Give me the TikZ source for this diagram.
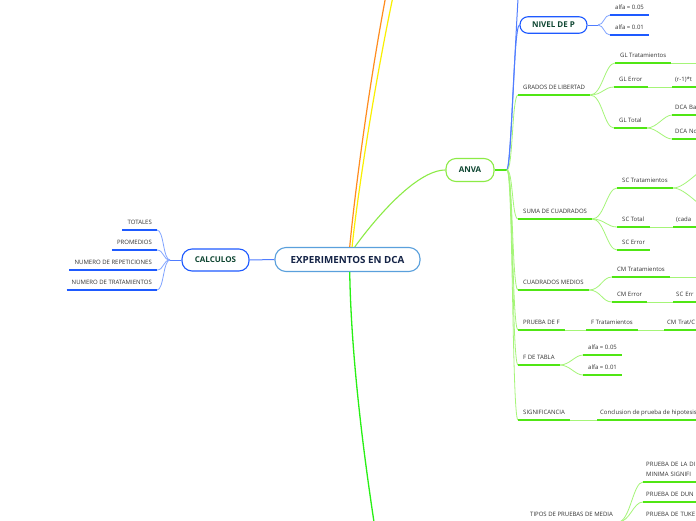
\documentclass[tikz,border=0pt]{standalone}
\usepackage{fontspec}
\setmainfont{Open Sans}
\usepackage{xcolor}
\usepackage{tikz}
\definecolor{rootline}{RGB}{90,160,220}
\definecolor{roottext}{RGB}{20,35,70}
\definecolor{topictext}{RGB}{15,70,50}
\definecolor{leaftext}{RGB}{50,50,50}
\definecolor{bluedark}{RGB}{30,90,255}
\definecolor{bluemid}{RGB}{80,125,255}
\definecolor{bluelight}{RGB}{130,165,255}
\definecolor{greendark}{RGB}{80,230,20}
\definecolor{greenlight}{RGB}{165,245,120}
\definecolor{greenbox}{RGB}{140,235,70}
\definecolor{mainorange}{RGB}{255,140,30}
\definecolor{mainyellow}{RGB}{250,240,0}
\definecolor{maingreen}{RGB}{40,240,20}
\tikzset{
    rootbox/.style={draw=rootline,line width=1.1pt,rounded corners=11pt,fill=white,text=roottext,
        font=\fontsize{9.8}{11}\selectfont\bfseries,minimum width=145pt,minimum height=24pt,inner sep=0pt},
    topicbox/.style={line width=1.1pt,fill=white,text=topictext,font=\fontsize{8}{9}\selectfont\bfseries,inner sep=0pt},
    bluetopic/.style={topicbox,draw=bluedark,rounded corners=10pt},
    greentopic/.style={topicbox,draw=greenbox,rounded corners=10pt},
    leaf/.style={text=leaftext,font=\fontsize{6}{10}\selectfont,inner xsep=5pt,inner ysep=0pt,text height=4.5pt,text depth=5pt},
    rleaf/.style={leaf,anchor=south west},
    lleaf/.style={leaf,anchor=south east},
    cutleaf/.style={rleaf,inner xsep=3pt,text width=62pt,align=left},
    bline/.style={draw=bluedark,line width=1.4pt},
    bjoin/.style={draw=bluemid,line width=1pt},
    bcurve/.style={draw=bluelight,line width=0.8pt},
    gline/.style={draw=greendark,line width=1.4pt},
    gjoin/.style={draw=greendark,line width=1.2pt},
    gcurve/.style={draw=greenlight,line width=0.8pt},
}

\begin{document}
\begin{tikzpicture}[x=1pt,y=-1pt]
        \useasboundingbox[fill=white] (0,0) rectangle (696,520);

        \node[rootbox] (root) at (347.5,259.5) {EXPERIMENTOS EN DCA};
        \node[bluetopic,minimum width=67pt,minimum height=22pt] (calc) at (215.5,260) {CALCULOS};
        \node[greentopic,minimum width=48pt,minimum height=23pt] (anva) at (470,170) {ANVA};
        \node[bluetopic,rounded corners=8pt,minimum width=67pt,minimum height=16.5pt] (nivel) at (553.5,25) {NIVEL DE P};

        \coordinate (orangeend) at (393,-40);
        \coordinate (yellowend) at (401,-40);
        \coordinate (downend) at (380,560);
        \draw[mainorange,line width=1.2pt] (root.80) .. controls (355,190) and (372,60) .. (orangeend);
        \draw[mainyellow,line width=1.2pt] (root.70) .. controls (358,190) and (378,60) .. (yellowend);
        \draw[maingreen,line width=1.3pt] (root.-80) .. controls (351,350) and (362,450) .. (downend);
        \draw[greenbox,line width=1.1pt] (root.60) .. controls +(18,-25) and +(-30,0) .. (anva.west);
        \draw[bjoin] (root.west) -- (calc.east);

        \node[lleaf] (totales) at (157,230) {TOTALES};
        \node[lleaf] (promedios) at (157,250) {PROMEDIOS};
        \node[lleaf] (repet) at (157,270) {NUMERO DE REPETICIONES};
        \node[lleaf] (tratam) at (157,290) {NUMERO DE TRATAMIENTOS};
        \coordinate (calcout) at (170,260);
        \draw[bjoin] (calc.west) -- (calcout);
        \draw[bcurve] (calcout) .. controls +(-7,0) and +(7,0) .. (totales.south east);
        \draw[bcurve] (calcout) .. controls +(-7,0) and +(7,0) .. (promedios.south east);
        \draw[bcurve] (calcout) .. controls +(-7,0) and +(7,0) .. (repet.south east);
        \draw[bcurve] (calcout) .. controls +(-7,0) and +(7,0) .. (tratam.south east);

        \coordinate (anvaout) at (507,170);
        \coordinate (anvaup) at (524,-60);
        \draw[gjoin] (anva.east) -- (anvaout);
        \draw[bjoin] (anvaout) .. controls +(5,-6) and +(-6,0) .. (nivel.west);
        \draw[bjoin] (anvaout) .. controls +(5,-6) and +(-6,0) .. (anvaup);

        \node[rleaf] (alfa5) at (610,15) {alfa = 0.05};
        \node[rleaf] (alfa1) at (610,35) {alfa = 0.01};
        \coordinate (nivelout) at (598,25);
        \draw[bjoin] (nivel.east) -- (nivelout);
        \draw[bcurve] (nivelout) .. controls +(6,0) and +(-6,0) .. (alfa5.south west);
        \draw[bcurve] (nivelout) .. controls +(6,0) and +(-6,0) .. (alfa1.south west);

        \node[rleaf] (grados) at (518,95) {GRADOS DE LIBERTAD};
        \node[rleaf] (suma) at (518,219) {SUMA DE CUADRADOS};
        \node[rleaf] (cmedios) at (518,290) {CUADRADOS MEDIOS};
        \node[rleaf] (pruebaf) at (518,330) {PRUEBA DE F};
        \node[rleaf] (ftabla) at (518,365) {F DE TABLA};
        \node[rleaf] (signif) at (518,420) {SIGNIFICANCIA};
        \draw[gcurve] (anvaout) .. controls +(6,0) and +(-6,0) .. (grados.south west);
        \draw[gcurve] (anvaout) .. controls +(6,0) and +(-6,0) .. (suma.south west);
        \draw[gcurve] (anvaout) .. controls +(6,0) and +(-6,0) .. (cmedios.south west);
        \draw[gcurve] (anvaout) .. controls +(6,0) and +(-6,0) .. (pruebaf.south west);
        \draw[gcurve] (anvaout) .. controls +(6,0) and +(-6,0) .. (ftabla.south west);
        \draw[gcurve] (anvaout) .. controls +(6,0) and +(-6,0) .. (signif.south west);

        \node[rleaf] (gltrat) at (615,63) {GL Tratamientos};
        \node[rleaf] (glerror) at (614,87) {GL Error};
        \node[rleaf] (gltotal) at (614,128) {GL Total};
        \node[cutleaf] (rmenos) at (672,87) {(r-1)*t};
        \node[cutleaf] (dcaba) at (672,115) {DCA Ba};
        \node[cutleaf] (dcano) at (672,139) {DCA No};
        \coordinate (gltratout) at (700,63);
        \draw[gcurve] (grados.south east) .. controls +(12,0) and +(-10,0) .. (gltrat.south west);
        \draw[gcurve] (grados.south east) .. controls +(12,0) and +(-10,0) .. (glerror.south west);
        \draw[gcurve] (grados.south east) .. controls +(12,0) and +(-10,0) .. (gltotal.south west);
        \draw[gcurve] (gltrat.south east) -- (gltratout);
        \draw[gcurve] (glerror.south east) -- (rmenos.south west);
        \draw[gcurve] (gltotal.south east) .. controls +(10,0) and +(-8,0) .. (dcaba.south west);
        \draw[gcurve] (gltotal.south east) .. controls +(10,0) and +(-8,0) .. (dcano.south west);

        \node[rleaf] (sctrat) at (617,188) {SC Tratamientos};
        \node[rleaf] (sctotal) at (617,227) {SC Total};
        \node[rleaf] (scerror) at (617,250) {SC Error};
        \node[cutleaf] (cada) at (673,227) {(cada};
        \coordinate (sctratup) at (716,164);
        \coordinate (sctratdown) at (716,212);
        \draw[gcurve] (suma.south east) .. controls +(12,0) and +(-10,0) .. (sctrat.south west);
        \draw[gcurve] (suma.south east) .. controls +(12,0) and +(-10,0) .. (sctotal.south west);
        \draw[gcurve] (suma.south east) .. controls +(12,0) and +(-10,0) .. (scerror.south west);
        \draw[gcurve] (sctrat.south east) .. controls +(14,0) and +(-14,0) .. (sctratup);
        \draw[gcurve] (sctrat.south east) .. controls +(14,0) and +(-14,0) .. (sctratdown);
        \draw[gcurve] (sctotal.south east) -- (cada.south west);

        \node[rleaf] (cmtrat) at (612,277) {CM Tratamientos};
        \node[rleaf] (cmerror) at (612,302) {CM Error};
        \node[cutleaf] (scerr) at (673,302) {SC Err};
        \coordinate (cmtratout) at (700,277);
        \draw[gcurve] (cmedios.south east) .. controls +(12,0) and +(-10,0) .. (cmtrat.south west);
        \draw[gcurve] (cmedios.south east) .. controls +(12,0) and +(-10,0) .. (cmerror.south west);
        \draw[gcurve] (cmtrat.south east) -- (cmtratout);
        \draw[gcurve] (cmerror.south east) -- (scerr.south west);

        \node[rleaf] (ftrat) at (586,330) {F Tratamientos};
        \node[cutleaf] (cmtratc) at (664,330) {CM Trat/C};
        \draw[gcurve] (pruebaf.south east) -- (ftrat.south west);
        \draw[gcurve] (ftrat.south east) -- (cmtratc.south west);

        \node[rleaf] (alfa5t) at (583,355) {alfa = 0.05};
        \node[rleaf] (alfa1t) at (583,375) {alfa = 0.01};
        \draw[gcurve] (ftabla.south east) .. controls +(10,0) and +(-8,0) .. (alfa5t.south west);
        \draw[gcurve] (ftabla.south east) .. controls +(10,0) and +(-8,0) .. (alfa1t.south west);

        \node[rleaf,inner xsep=3pt] (conclu) at (597,420) {Conclusion de prueba de hipotesis};
        \draw[gcurve] (signif.south east) -- (conclu.south west);

        \node[rleaf] (tipos) at (525,522) {TIPOS DE PRUEBAS DE MEDIA};
        \node[cutleaf,text depth=15pt] (pdms) at (643,482) {PRUEBA DE LA DI\\MINIMA SIGNIFI};
        \node[cutleaf] (pduncan) at (643,502) {PRUEBA DE DUN};
        \node[cutleaf] (ptukey) at (643,522) {PRUEBA DE TUKE};
        \draw[gcurve] (tipos.south east) .. controls +(12,0) and +(-10,0) .. (pdms.south west);
        \draw[gcurve] (tipos.south east) .. controls +(12,0) and +(-10,0) .. (pduncan.south west);
        \draw[gcurve] (tipos.south east) .. controls +(12,0) and +(-10,0) .. (ptukey.south west);

        \draw[bline] (totales.south west) -- (totales.south east) (promedios.south west) -- (promedios.south east)
            (repet.south west) -- (repet.south east) (tratam.south west) -- (tratam.south east)
            (alfa5.south west) -- (alfa5.south east) (alfa1.south west) -- (alfa1.south east);
        \draw[gline] (grados.south west) -- (grados.south east) (suma.south west) -- (suma.south east)
            (cmedios.south west) -- (cmedios.south east) (pruebaf.south west) -- (pruebaf.south east)
            (ftabla.south west) -- (ftabla.south east) (signif.south west) -- (signif.south east)
            (gltrat.south west) -- (gltrat.south east) (glerror.south west) -- (glerror.south east)
            (gltotal.south west) -- (gltotal.south east) (rmenos.south west) -- (rmenos.south east)
            (dcaba.south west) -- (dcaba.south east) (dcano.south west) -- (dcano.south east)
            (sctrat.south west) -- (sctrat.south east) (sctotal.south west) -- (sctotal.south east)
            (scerror.south west) -- (scerror.south east) (cada.south west) -- (cada.south east)
            (cmtrat.south west) -- (cmtrat.south east) (cmerror.south west) -- (cmerror.south east)
            (scerr.south west) -- (scerr.south east) (ftrat.south west) -- (ftrat.south east)
            (cmtratc.south west) -- (cmtratc.south east) (alfa5t.south west) -- (alfa5t.south east)
            (alfa1t.south west) -- (alfa1t.south east) (conclu.south west) -- (conclu.south east)
            (pdms.south west) -- (pdms.south east) (pduncan.south west) -- (pduncan.south east);
    \end{tikzpicture}
\end{document}
